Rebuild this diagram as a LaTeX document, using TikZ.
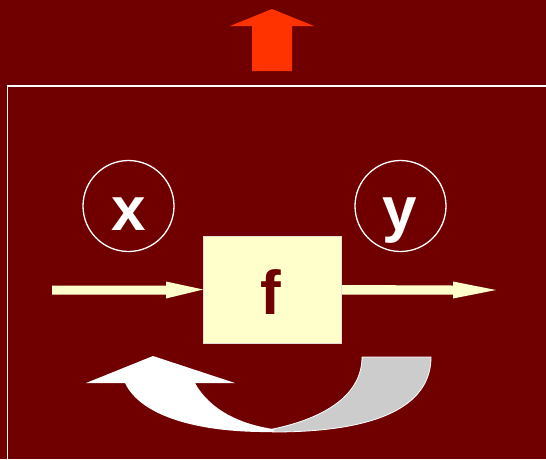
\documentclass[tikz,border=0pt]{standalone}
\usepackage{fontspec}
\setmainfont{Liberation Sans}
\begin{document}
\begin{tikzpicture}[x=1pt,y=-1pt,
  bigtxt/.style={font=\fontsize{62}{62}\selectfont\bfseries,inner sep=0pt,anchor=base},
  ring/.style={draw=white,line width=1.3pt,circle,minimum size=91pt,inner sep=0pt},
  flow/.style={fill=lightyellow},
]
\definecolor{bgred}{RGB}{112,0,0}
\definecolor{lightyellow}{RGB}{255,255,204}
\definecolor{topred}{RGB}{255,51,0}
\definecolor{backgray}{RGB}{204,204,204}
\fill[bgred] (0,0) rectangle (546,459);
\useasboundingbox (0,0) rectangle (546,459);
% frame
\draw[white,line width=1.6pt] (7.5,459) -- (7.5,86) -- (546,86);
% top arrow
\fill[topred] (252,71) -- (252,26) -- (230,26) -- (272,9) -- (314,26) -- (292,26) -- (292,71) -- cycle;
% circles
\node[ring] (cx) at (128.5,206) {};
\node[ring] (cy) at (400.5,206) {};
\node[bigtxt,text=white] (tx) at (129,230) {x};
\node[bigtxt,text=white] (ty) at (400,230) {y};
% box
\node[draw=white!85!bgred,line width=0.8pt,fill=lightyellow,minimum width=138pt,minimum height=107pt,inner sep=0pt] (f) at (272.5,289.5) {};
\node[bigtxt,text=bgred] (tf) at (271,314) {f};
% flow arrows
\coordinate (in) at (52,290);
\coordinate (out) at (496,290);
\fill[flow] (in) ++(0,-4.5) -- (166,285.5) -- (166,281.5) -- (f.west) -- (166,298.5) -- (166,294.5) -- (52,294.5) -- cycle;
\fill[flow] (f.east) ++(0,-4.5) -- (453,285.5) -- (453,281.5) -- (out) -- (453,298.5) -- (453,294.5) -- (342,294.5) -- cycle;
% curved arrow: back side (gray)
\fill[backgray,draw=white,line width=0.8pt] (362,357) -- (431,357)
  .. controls (431,400) and (390,432) .. (273,432)
  .. controls (275,431) and (274,430) .. (273,429)
  .. controls (325,418) and (362,395) .. (362,357) -- cycle;
% curved arrow: front side (white)
\fill[white] (273,432) .. controls (195,433) and (140,415) .. (125,383)
  -- (86,383) -- (153,356) -- (235,383) -- (195,383)
  .. controls (210,410) and (240,424) .. (273,429) -- cycle;
\end{tikzpicture}
\end{document}
